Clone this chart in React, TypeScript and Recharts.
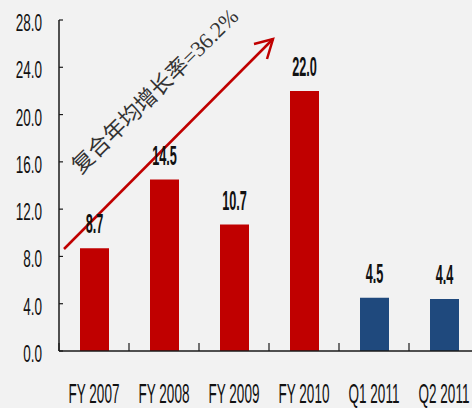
import React from 'react';
import { Bar, BarChart, Cell, LabelList, XAxis, YAxis } from 'recharts';

const categories = ['FY 2007', 'FY 2008', 'FY 2009', 'FY 2010', 'Q1 2011', 'Q2 2011'];
const revenue = [8.7, 14.5, 10.7, 22.0, 4.5, 4.4];
const periodKind = ['FY', 'FY', 'FY', 'FY', 'Q', 'Q'];
const yTicks = [0, 4, 8, 12, 16, 20, 24, 28];
const cagrLabel = '复合年均增长率=36.2%';

const KIND_COLORS: Record<string, string> = { FY: '#C00000', Q: '#1F497D' };
const NARROW = '"Liberation Sans", Arial, sans-serif';
const SQUEEZE = 0.82;
const AXIS = '#1a1a1a';

const data = categories.map((name, i) => ({ name, value: revenue[i], kind: periodKind[i] }));

function Stretched({ x, y, sy, size, bold, anchor, children }: any) {
  return (
    <text
      transform={`translate(${x},${y}) scale(${SQUEEZE},${sy})`}
      fontFamily={NARROW}
      fontSize={size}
      fontWeight={bold ? 700 : 400}
      textAnchor={anchor}
      fill="#111"
    >
      {children}
    </text>
  );
}

function YTick(props: any) {
  const { x, payload } = props;
  const y = payload.coordinate;
  return (
    <g>
      <line x1={x} x2={x + 4} y1={y} y2={y} stroke={AXIS} strokeWidth={1.2} />
      <Stretched x={x - 17} y={y + 11} sy={1.4} size={16.5} anchor="end">
        {Number(payload.value).toFixed(1)}
      </Stretched>
    </g>
  );
}

function XTick(props: any) {
  const { x, y, payload, index, visibleTicksCount } = props;
  const half = payload.offset ?? 35;
  return (
    <g>
      <line x1={x - half} x2={x - half} y1={y} y2={y - 8} stroke={AXIS} strokeWidth={1.2} />
      {index === visibleTicksCount - 1 && (
        <line x1={x + half} x2={x + half} y1={y} y2={y - 8} stroke={AXIS} strokeWidth={1.2} />
      )}
      <Stretched x={x} y={y + 52} sy={1.65} size={16.5} anchor="middle">
        {payload.value}
      </Stretched>
    </g>
  );
}

function BarValue(props: any) {
  const { x, y, width, value } = props;
  return (
    <Stretched x={x + width / 2} y={y - 15} sy={1.8} size={15.5} bold anchor="middle">
      {Number(value).toFixed(1)}
    </Stretched>
  );
}

export default function App() {
  return (
    <div
      style={{
        position: 'fixed',
        left: 0,
        top: 0,
        width: 472,
        height: 408,
        overflow: 'hidden',
        background: '#F2F2F2',
      }}
    >
      <BarChart width={500} height={408} data={data} margin={{ top: 20, right: 21, left: 0, bottom: 0 }}>
        <YAxis
          width={59}
          domain={[0, 28]}
          ticks={yTicks}
          interval={0}
          tickLine={false}
          tickSize={0}
          tickMargin={0}
          axisLine={{ stroke: AXIS, strokeWidth: 1.5 }}
          tick={<YTick />}
        />
        <XAxis
          dataKey="name"
          height={57}
          interval={0}
          tickLine={false}
          tickSize={0}
          tickMargin={0}
          axisLine={{ stroke: AXIS, strokeWidth: 1.5 }}
          tick={<XTick />}
        />
        <Bar dataKey="value" barSize={29} isAnimationActive={false}>
          {data.map((d, i) => (
            <Cell key={i} fill={KIND_COLORS[d.kind]} />
          ))}
          <LabelList dataKey="value" content={<BarValue />} />
        </Bar>
        <g>
          <line x1={64} y1={249} x2={273} y2={39} stroke="#C00000" strokeWidth={2.5} />
          <polyline
            points="254,44 273,39 267,59"
            fill="none"
            stroke="#C00000"
            strokeWidth={2.5}
          />
          <text
            transform="translate(155,91) rotate(-44.6)"
            textAnchor="middle"
            dominantBaseline="central"
            fontFamily='"Liberation Serif", "Noto Sans CJK SC", serif'
            fontSize={22}
            fill="#333"
          >
            {cagrLabel}
          </text>
        </g>
      </BarChart>
    </div>
  );
}
